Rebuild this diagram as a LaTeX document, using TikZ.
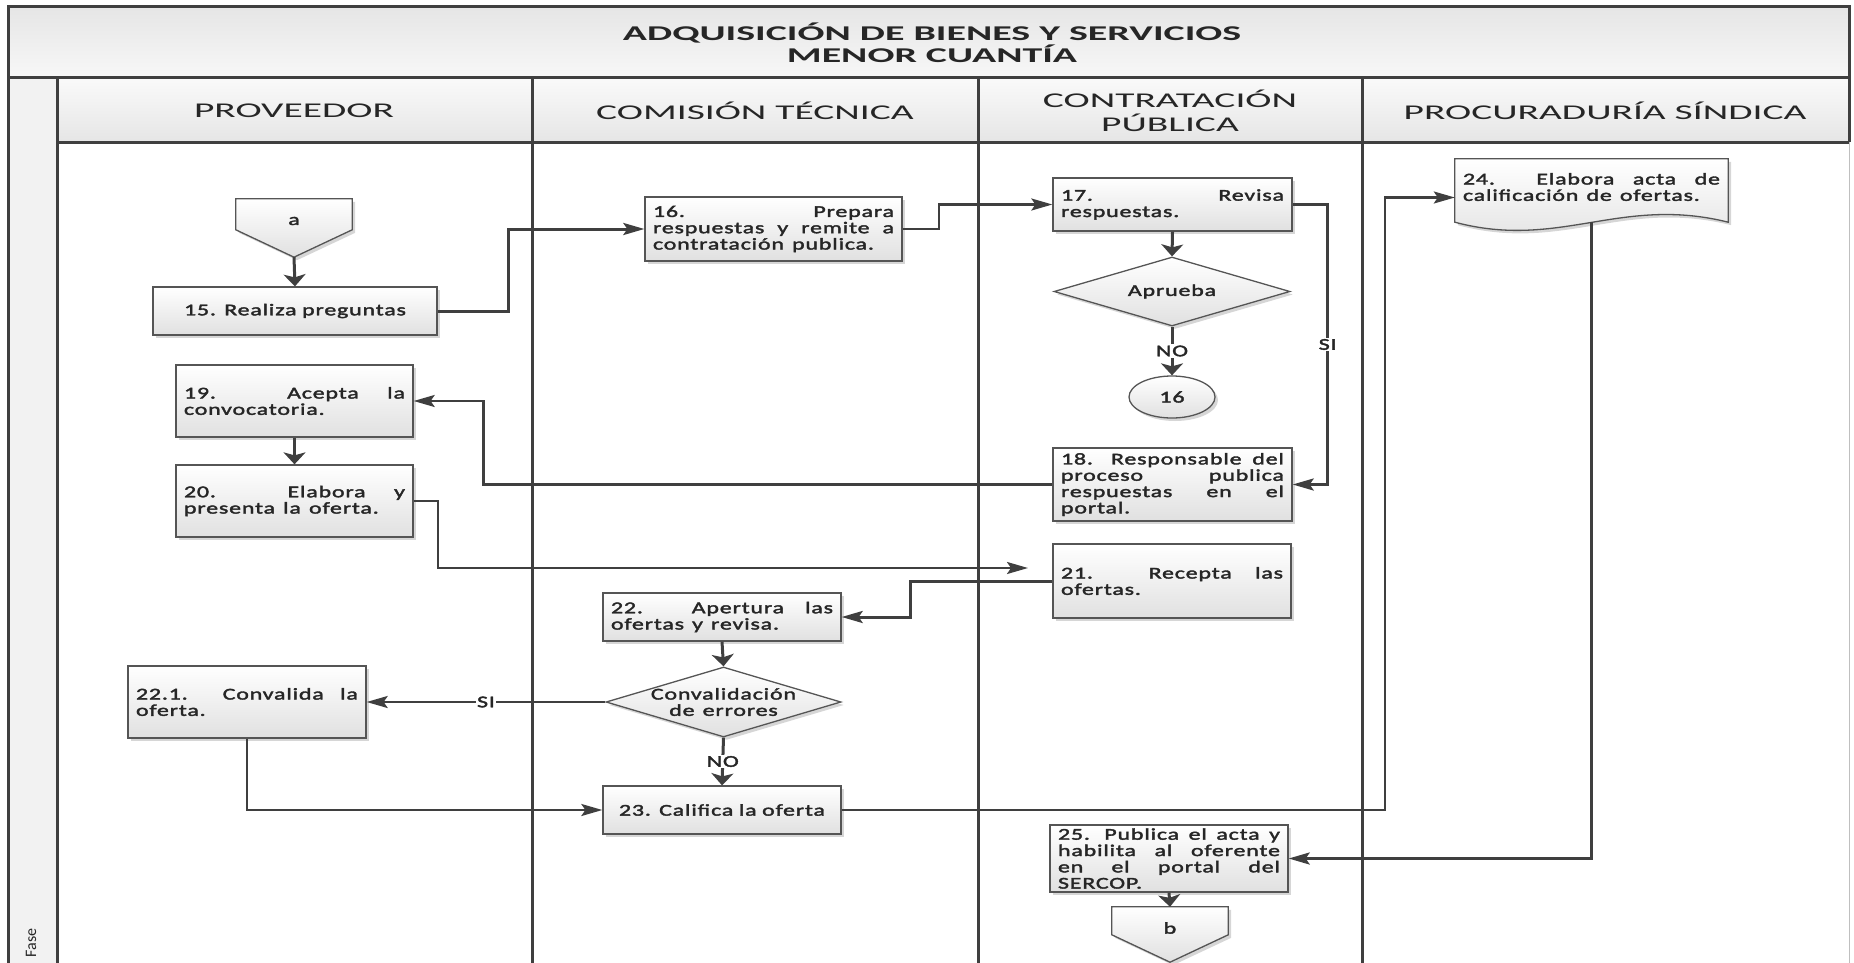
\documentclass[tikz,border=0pt]{standalone}
\usepackage{fontspec}
\usetikzlibrary{arrows.meta,shapes.geometric,shadows,calc}
\newfontfamily\boxfont{Carlito}[FakeStretch=1.45, LetterSpace=5, WordSpace=1.3, FakeBold=2.2]
\newfontfamily\headfont{Carlito}[FakeStretch=1.88]
\newfontfamily\titlefont{Carlito}[FakeStretch=1.9]
\newfontfamily\fasefont{Carlito}
\hyphenpenalty=10000
\tolerance=10000
\definecolor{ink}{HTML}{3F3F3F}
\definecolor{edge}{HTML}{555555}
\definecolor{txt}{HTML}{262626}
\tikzset{
  lane/.style={draw=ink, line width=3pt},
  shade box/.style={top color=white, bottom color=black!12},
  shadowed/.style={drop shadow={shadow xshift=3pt, shadow yshift=-3pt, fill=black, opacity=0.16}},
  boxtext/.style={font=\boxfont\fontsize{16.5pt}{16.3pt}\selectfont, text=txt},
  stepbox/.style={rectangle, draw=edge, line width=1.3pt, shade box, shadowed, boxtext,
    inner xsep=8pt, inner ysep=0pt, align=justify},
  decision/.style={diamond, draw=edge, line width=1.3pt, shade box, shadowed, inner sep=0pt},
  labeltext/.style={boxtext, align=center, inner sep=1pt},
  tag/.style={labeltext, fill=white, inner sep=1.5pt},
  head/.style={font=\headfont\fontsize{21pt}{24pt}\selectfont, text=txt, align=center},
  flow/.style={draw=ink, line width=3pt},
  thinflow/.style={draw=ink, line width=2.3pt},
  harrow/.style={-{Stealth[length=21pt,width=12pt,inset=4pt]}},
  varrow/.style={-{Stealth[length=12pt,width=22pt,inset=3pt]}},
}
\begin{document}
\begin{tikzpicture}[x=1pt, y=-1pt]
\useasboundingbox (0,0) rectangle (1854,963);

% ---- frame: title band, phase strip, lane headers
\shade[top color=black!10, bottom color=black!3] (8,7) rectangle (1849,78);
\fill[black!5] (8,78) rectangle (57,963);
\foreach \l/\r in {57/532, 532/978, 978/1362, 1362/1849}
  \shade[top color=black!2, bottom color=black!10] (\l,78) rectangle (\r,142);
\draw[black!25, line width=1pt] (1849,142) -- (1849,963);
\draw[lane] (8,963) -- (8,7) -- (1849,7) -- (1849,142);
\draw[lane] (8,78) -- (1849,78);
\draw[lane] (57,142) -- (1849,142);
\draw[lane] (57,78) -- (57,963);
\foreach \x in {532,978,1362} \draw[lane] (\x,78) -- (\x,963);

\node[font=\titlefont\bfseries\fontsize{21pt}{22pt}\selectfont, text=txt, align=center]
  (title) at (932,43) {ADQUISICIÓN DE BIENES Y SERVICIOS\\MENOR CUANTÍA};
\node[head] (hprov) at (294,111) {PROVEEDOR};
\node[head] (hcom)  at (755,111) {COMISIÓN TÉCNICA};
\node[head] (hcon)  at (1170,111) {CONTRATACIÓN\\PÚBLICA};
\node[head] (hproc) at (1605,111) {PROCURADURÍA SÍNDICA};
\node[rotate=90, font=\fasefont\fontsize{16pt}{16pt}\selectfont, text=txt] (fase) at (31,943) {Fase};

% ---- off-page connector a
\node[inner sep=0pt, minimum width=116pt, minimum height=58pt] (a) at (294,228) {};
\draw[draw=edge, line width=1.3pt, shade box, shadowed]
  (a.north west) -- (a.north east) -- ($(a.north east)+(0,31)$) -- (a.south)
  -- ($(a.north west)+(0,31)$) -- cycle;
\node[labeltext] (atxt) at (294,221) {a};

% ---- process steps
\node[stepbox, minimum width=284pt, minimum height=48pt, text width=268pt, align=center]
  (n15) at (295,311) {15. Realiza preguntas};
\node[stepbox, minimum width=257pt, minimum height=64pt, text width=241pt]
  (n16) at (773.5,229) {16. Prepara\linebreak respuestas y remite a\linebreak contratación publica.};
\node[stepbox, minimum width=239pt, minimum height=53pt, text width=223pt]
  (n17) at (1172.5,204.5) {17. Revisa\linebreak respuestas.};
\node[decision, minimum width=236pt, minimum height=69pt] (d1) at (1172,291.5) {};
\node[labeltext] (d1t) at (d1) {Aprueba};
\node[ellipse, draw=edge, line width=1.3pt, shade box, shadowed, labeltext,
  minimum width=86pt, minimum height=42pt, inner sep=0pt] (c16) at (1172,397) {16};
\node[stepbox, minimum width=239pt, minimum height=73pt, text width=223pt]
  (n18) at (1172.5,484.5) {18. Responsable del\linebreak proceso publica\linebreak respuestas en el\linebreak portal.};
\node[stepbox, minimum width=237pt, minimum height=72pt, text width=221pt]
  (n19) at (294.5,401) {19. Acepta la\linebreak convocatoria.};
\node[stepbox, minimum width=237pt, minimum height=72pt, text width=221pt]
  (n20) at (294.5,501) {20. Elabora y\linebreak presenta la oferta.};
\node[stepbox, minimum width=238pt, minimum height=74pt, text width=222pt]
  (n21) at (1172,581) {21. Recepta las\linebreak ofertas.};
\node[stepbox, minimum width=238pt, minimum height=48pt, text width=222pt]
  (n22) at (722,617) {22. Apertura las\linebreak ofertas y revisa.};
\node[decision, minimum width=235pt, minimum height=70pt] (d2) at (723.5,702) {};
\node[labeltext] (d2t) at (d2) {Convalidación\\de errores};
\node[stepbox, minimum width=238pt, minimum height=72pt, text width=222pt]
  (n221) at (247,702) {22.1. Convalida la\linebreak oferta.};
\node[stepbox, minimum width=238pt, minimum height=48pt, text width=222pt, align=center]
  (n23) at (722,810) {23. Califica la oferta};

% document-shaped step 24
\node[inner sep=0pt, minimum width=273pt, minimum height=63pt] (n24) at (1591.5,190.5) {};
\draw[draw=edge, line width=1.3pt, shade box, shadowed]
  (n24.north west) -- (n24.north east) -- (n24.south east)
  .. controls ($(n24.south east)+(-108,-27)$) and ($(n24.south west)+(105,28)$) .. (n24.south west)
  -- cycle;
\node[boxtext, align=justify, text width=257pt, inner sep=0pt] (n24t) at (1591.5,187)
  {24. Elabora acta de\linebreak calificación de ofertas.};

\node[stepbox, minimum width=238pt, minimum height=67pt, text width=222pt]
  (n25) at (1169,858.5) {25. Publica el acta y\linebreak habilita al oferente\linebreak en el portal del\linebreak SERCOP.};

% ---- off-page connector b
\node[inner sep=0pt, minimum width=116pt, minimum height=55pt] (b) at (1170,934.5) {};
\draw[draw=edge, line width=1.3pt, shade box, shadowed]
  (b.north west) -- (b.north east) -- ($(b.north east)+(0,28)$) -- (b.south)
  -- ($(b.north west)+(0,28)$) -- cycle;
\node[labeltext] (btxt) at (1170,928) {b};

% ---- connectors
\coordinate (r21) at (1028,568);
\draw[flow, varrow] (a.south) -- (n15.north);
\draw[flow, harrow] (n15.east) -- ++(71,0) |- (n16.west);
\draw[thinflow, harrow] (n16.east) -- ++(36,0) |- (n17.west);
\draw[flow, varrow] (n17.south) -- (d1.north);
\draw[flow, varrow] (d1.south) -- node[tag] (lno1) {NO} (c16.north);
\draw[flow, harrow] (n17.east) -- ++(35,0) |- node[tag, pos=0.25] (lsi1) {SI} (n18.east);
\draw[thinflow, harrow] (n18.west) -- ++(-569,0) |- (n19.east);
\draw[flow, varrow] (n19.south) -- (n20.north);
\draw[thinflow, harrow] (n20.east) -- ++(24,0) |- (r21);
\draw[flow, harrow] (n21.west) -- ++(-142,0) |- (n22.east);
\draw[flow, varrow] (n22.south) -- (d2.north);
\draw[thinflow, harrow] (d2.west) -- node[tag] (lsi2) {SI} (n221.east);
\draw[flow, varrow] (d2.south) -- node[tag] (lno2) {NO} (n23.north);
\draw[thinflow, harrow] (n221.south) |- (n23.west);
\draw[thinflow, harrow] (n23.east) -| ($(n24.west)+(-70,7)$) -- ($(n24.west)+(0,7)$);
\draw[flow, harrow] (n24.south) |- (n25.east);
\draw[flow, varrow] (n25.south) -- (b.north);
\end{tikzpicture}
\end{document}
